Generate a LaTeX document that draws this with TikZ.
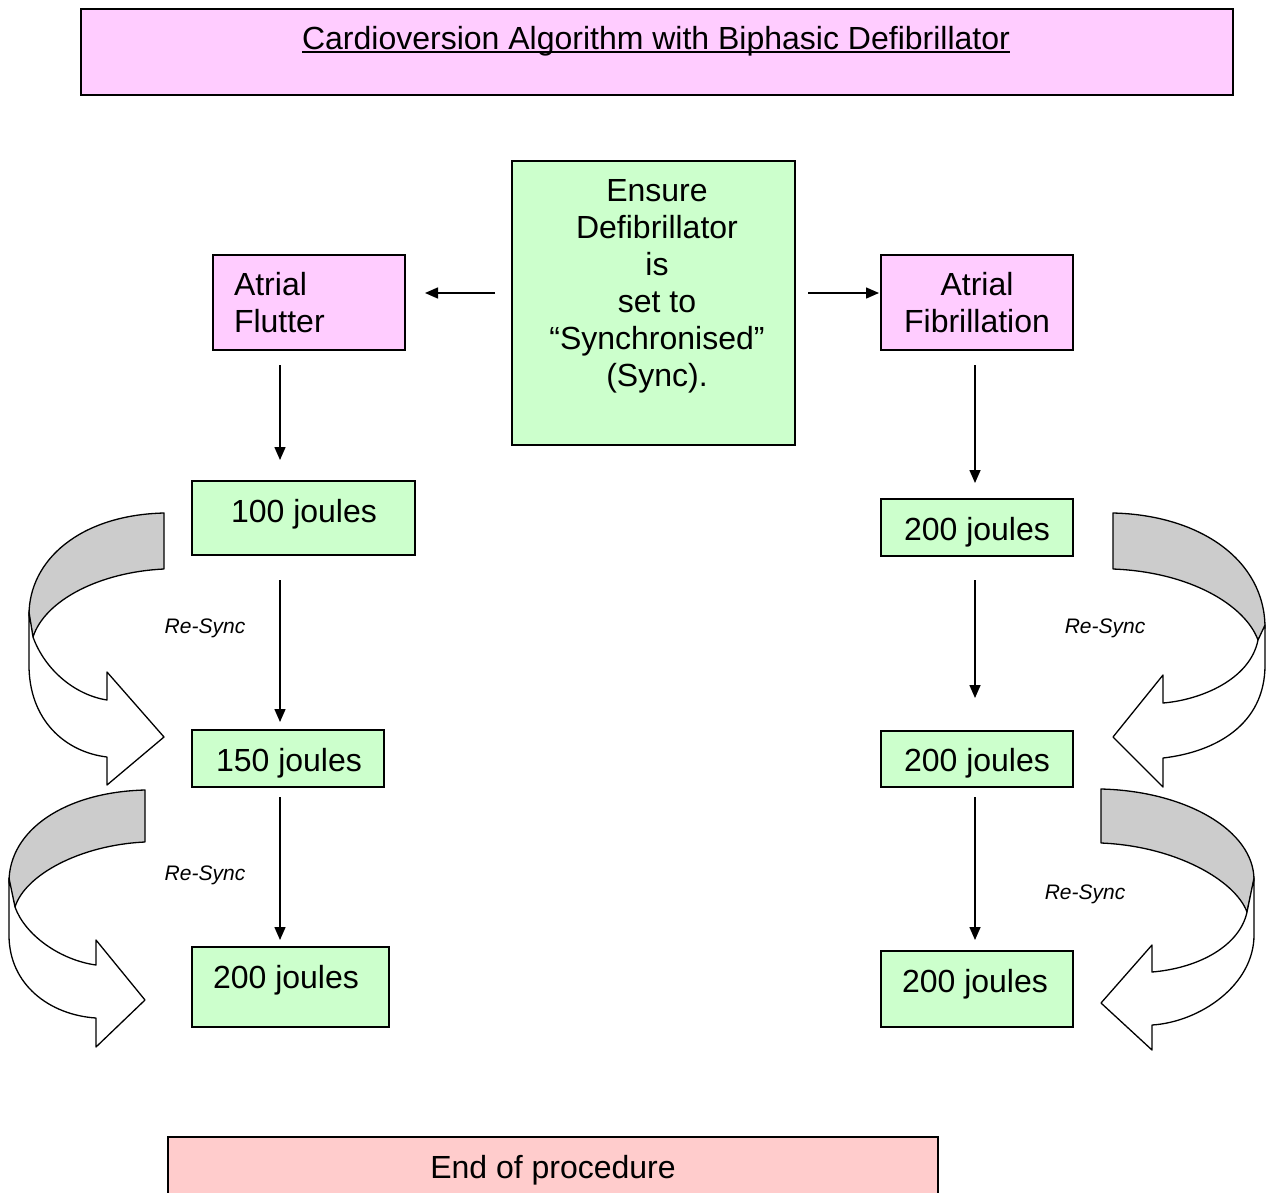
\documentclass[tikz,border=0pt]{standalone}
\usepackage{fontspec}
\setmainfont{Liberation Sans}
\usetikzlibrary{arrows.meta,calc}
\definecolor{pinkbox}{HTML}{FFCCFF}
\definecolor{greenbox}{HTML}{CCFFCC}
\definecolor{endbox}{HTML}{FFCCCC}
\definecolor{bandgray}{HTML}{CCCCCC}
\begin{document}
\begin{tikzpicture}[x=1pt,y=-1pt,
  box/.style={draw=black,line width=1.5pt,rectangle,inner sep=0pt,outer sep=0pt,anchor=north west},
  txt/.style={inner sep=0pt,outer sep=0pt,font=\fontsize{32}{37}\selectfont,anchor=base},
  resync/.style={inner sep=0pt,outer sep=0pt,font=\fontsize{21}{24}\selectfont\itshape,anchor=base},
  arr/.style={line width=1.5pt,-{Triangle[length=13pt,width=11pt]}},
  backface/.style={draw=black,fill=bandgray,line width=1.3pt,line join=round},
  frontface/.style={draw=black,fill=white,line width=1.3pt,line join=round}]
\clip (0,0) rectangle (1266,1192);
\fill[white] (0,0) rectangle (1266,1192);

% title
\node[box,fill=pinkbox,minimum width=1152pt,minimum height=86pt] (title) at (81,9) {};
\node[txt] (titletxt) at (656,49) {Cardioversion Algorithm with Biphasic Defibrillator};
\draw[line width=1.5pt] ($(titletxt.base west)+(0,3)$) -- ($(titletxt.base east)+(0,3)$);

% centre box
\node[box,fill=greenbox,minimum width=283pt,minimum height=284pt] (ensure) at (512,161) {};
\node[txt] (ensuretxt) at (657,201) {\begin{tabular}[t]{@{}c@{}}Ensure\\Defibrillator\\is\\set to\\“Synchronised”\\(Sync).\end{tabular}};

% atrial boxes
\node[box,fill=pinkbox,minimum width=192pt,minimum height=95pt] (flutter) at (213,255) {};
\node[txt,anchor=base west] (fluttertxt) at (234,295) {\begin{tabular}[t]{@{}l@{}}Atrial\\Flutter\end{tabular}};
\node[box,fill=pinkbox,minimum width=192pt,minimum height=95pt] (fib) at (881,255) {};
\node[txt] (fibtxt) at (977,295) {\begin{tabular}[t]{@{}c@{}}Atrial\\Fibrillation\end{tabular}};

% left energy boxes
\node[box,fill=greenbox,minimum width=223pt,minimum height=74pt] (jl1) at (192,481) {};
\node[txt] (jl1txt) at (304,522) {100 joules};
\node[box,fill=greenbox,minimum width=192pt,minimum height=57pt] (jl2) at (192,730) {};
\node[txt] (jl2txt) at (289,771) {150 joules};
\node[box,fill=greenbox,minimum width=197pt,minimum height=80pt] (jl3) at (192,947) {};
\node[txt] (jl3txt) at (286,988) {200 joules};

% right energy boxes
\node[box,fill=greenbox,minimum width=192pt,minimum height=57pt] (jr1) at (881,499) {};
\node[txt] (jr1txt) at (977,540) {200 joules};
\node[box,fill=greenbox,minimum width=192pt,minimum height=56pt] (jr2) at (881,731) {};
\node[txt] (jr2txt) at (977,771) {200 joules};
\node[box,fill=greenbox,minimum width=192pt,minimum height=76pt] (jr3) at (881,951) {};
\node[txt] (jr3txt) at (975,992) {200 joules};

% end box
\node[box,fill=endbox,minimum width=770pt,minimum height=80pt] (endp) at (168,1137) {};
\node[txt] (endtxt) at (553,1178) {End of procedure};

% straight arrows
\draw[arr] ($(ensure.west)+(-17,-10)$) -- ($(flutter.east)+(20,-9.5)$);
\draw[arr] ($(ensure.east)+(13,-10)$) -- ($(fib.west)+(-2,-9.5)$);
\draw[arr] ($(flutter.south)+(-29,15)$) -- ($(jl1.north)+(-23.5,-21)$);
\draw[arr] ($(jl1.south)+(-23.5,25)$) -- ($(jl2.north)+(-8,-8)$);
\draw[arr] ($(jl2.south)+(-8,10)$) -- ($(jl3.north)+(-10.5,-7)$);
\draw[arr] ($(fib.south)+(-2,15)$) -- ($(jr1.north)+(-2,-16)$);
\draw[arr] ($(jr1.south)+(-2,24)$) -- ($(jr2.north)+(-2,-33)$);
\draw[arr] ($(jr2.south)+(-2,10)$) -- ($(jr3.north)+(-2,-11)$);

% Re-Sync labels
\node[resync] (rs1) at (205,633) {Re-Sync};
\node[resync] (rs2) at (205,880) {Re-Sync};
\node[resync] (rs3) at (1105,633) {Re-Sync};
\node[resync] (rs4) at (1085,899) {Re-Sync};

% curved arrows, left upper
\draw[backface] (164,513) .. controls (80,515) and (29,560) .. (29,615) -- (33,637)
  .. controls (45,600) and (100,572) .. (164,569) -- cycle;
\draw[frontface] (29,612) -- (29,665) .. controls (29,720) and (65,752) .. (107,757)
  -- (107,785) -- (164,737) -- (107,672) -- (107,700)
  .. controls (75,695) and (45,670) .. (33,637) -- cycle;
% left lower
\draw[backface] (145,790) .. controls (65,792) and (9,830) .. (9,882) -- (15,907)
  .. controls (25,875) and (80,845) .. (145,842) -- cycle;
\draw[frontface] (9,878) -- (9,935) .. controls (9,985) and (50,1015) .. (96,1018)
  -- (96,1047) -- (145,1000) -- (96,940) -- (96,965)
  .. controls (60,960) and (25,935) .. (15,907) -- cycle;
% right upper
\draw[backface] (1113,513) .. controls (1200,515) and (1265,560) .. (1265,628) -- (1258,640)
  .. controls (1245,605) and (1190,572) .. (1113,569) -- cycle;
\draw[frontface] (1265,625) -- (1265,665) .. controls (1265,725) and (1215,752) .. (1163,758)
  -- (1163,787) -- (1113,737) -- (1163,675) -- (1163,703)
  .. controls (1200,700) and (1250,680) .. (1258,640) -- cycle;
% right lower
\draw[backface] (1101,789) .. controls (1185,791) and (1254,830) .. (1254,880) -- (1247,912)
  .. controls (1235,880) and (1175,846) .. (1101,843) -- cycle;
\draw[frontface] (1254,878) -- (1254,935) .. controls (1254,985) and (1200,1022) .. (1152,1025)
  -- (1152,1050) -- (1101,1003) -- (1152,945) -- (1152,972)
  .. controls (1200,968) and (1240,945) .. (1247,912) -- cycle;
\end{tikzpicture}
\end{document}
